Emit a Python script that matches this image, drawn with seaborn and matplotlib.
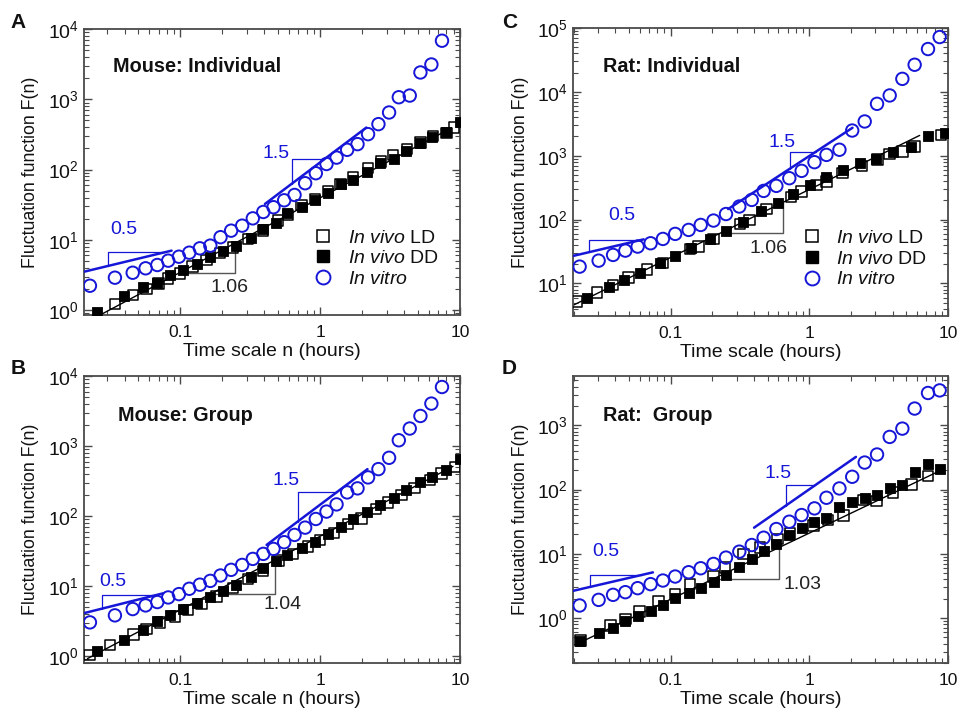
import numpy as np
import pandas as pd
import matplotlib
matplotlib.use("Agg")
import matplotlib.pyplot as plt
from matplotlib.lines import Line2D
from matplotlib.ticker import LogLocator, FuncFormatter, NullFormatter
import seaborn as sns

# ---------------- data ----------------
# Panel A: Mouse individual
x_a_vitro = [0.0226, 0.0341, 0.0457, 0.0565, 0.0685, 0.0820, 0.0978, 0.116, 0.138, 0.164, 0.194,
             0.231, 0.277, 0.330, 0.392, 0.464, 0.553, 0.656, 0.781, 0.931, 1.11, 1.31, 1.56, 1.85,
             2.20, 2.61, 3.11, 3.65, 4.37, 5.21, 6.24, 7.43]
y_a_vitro = [2.22, 2.89, 3.40, 3.93, 4.38, 5.05, 5.75, 6.56, 7.57, 8.26, 10.9, 13.5, 15.9, 20.2, 24.9,
             29.1, 36.5, 43.5, 63.9, 88.7, 120, 148, 191, 230, 319, 443, 649, 1070, 1130, 2410, 3130, 6820]
x_a_dd = [0.0255, 0.0398, 0.0544, 0.0685, 0.0849, 0.104, 0.131, 0.163, 0.201, 0.252, 0.318, 0.392, 0.482,
          0.581, 0.739, 0.916, 1.14, 1.42, 1.72, 2.18, 2.67, 3.38, 4.14, 5.21, 6.34, 7.98, 9.95]
y_a_dd = [0.946, 1.58, 2.10, 2.45, 3.12, 3.67, 4.48, 5.69, 7.01, 8.17, 10.5, 14.1, 17.6, 23.9, 29.1, 37.0,
          47.0, 61.8, 71.3, 93.6, 123, 140, 181, 237, 295, 340, 468]
x_a_ld = [0.0341, 0.0461, 0.0575, 0.0697, 0.0821, 0.0995, 0.122, 0.154, 0.192, 0.239, 0.306, 0.392, 0.501,
          0.591, 0.736, 0.917, 1.14, 1.40, 1.72, 2.20, 2.71, 3.32, 4.18, 5.21, 6.41, 7.98, 9.01]
y_a_ld = [1.22, 1.64, 2.01, 2.40, 2.80, 3.33, 4.15, 5.16, 6.43, 7.82, 10.2, 13.5, 18.8, 22.6, 31.4, 38.2,
          49.7, 62.5, 77.8, 105, 130, 160, 195, 243, 302, 330, 397]

# Panel B: Mouse group
x_b_vitro = x_a_vitro
y_b_vitro = [3.04, 3.83, 4.71, 5.31, 5.93, 6.90, 7.70, 9.18, 10.5, 11.9, 14.2, 17.1, 20.1, 24.5, 28.9, 34.0,
             42.4, 53.9, 68.5, 91.0, 116, 147, 218, 249, 357, 469, 680, 1210, 1780, 2690, 4040, 6970]
x_b_dd = x_a_dd
y_b_dd = [1.20, 1.72, 2.39, 3.14, 3.91, 4.71, 5.73, 6.98, 8.59, 10.5, 13.4, 18.1, 22.5, 28.0, 34.8, 43.3,
          55.7, 70.8, 90.0, 116, 144, 179, 235, 310, 357, 454, 644]
x_b_ld = [0.0224, 0.0315, 0.0462, 0.0575, 0.0717, 0.0916, 0.114, 0.142, 0.182, 0.239, 0.306, 0.392, 0.509,
          0.641, 0.821, 1.00, 1.25, 1.58, 1.97, 2.52, 3.06, 3.81, 4.74, 6.07, 7.36, 9.16]
y_b_ld = [1.05, 1.46, 2.03, 2.47, 3.04, 3.71, 4.61, 5.55, 7.13, 9.37, 12.7, 16.6, 23.2, 28.9, 36.7, 45.7,
          56.9, 76.4, 93.0, 126, 157, 200, 254, 327, 406, 506]

# Panel C: Rat individual
x_c_vitro = [0.0221, 0.0303, 0.0385, 0.0472, 0.0579, 0.0718, 0.0881, 0.108, 0.135, 0.165, 0.204, 0.251,
             0.313, 0.385, 0.469, 0.579, 0.718, 0.881, 1.09, 1.33, 1.65, 2.04, 2.51, 3.08, 3.80, 4.69,
             5.75, 7.18, 8.71]
y_c_vitro = [18.3, 22.7, 27.9, 32.6, 37.7, 42.5, 49.7, 59.6, 68.8, 82.3, 96.4, 122, 160, 203, 281, 337,
             444, 579, 792, 1030, 1240, 2480, 3440, 6500, 8790, 16000, 26600, 46900, 72300]
x_c_dd = [0.0250, 0.0358, 0.0464, 0.0605, 0.0843, 0.107, 0.141, 0.193, 0.251, 0.335, 0.449, 0.592, 0.759,
          1.01, 1.33, 1.76, 2.32, 3.05, 4.02, 5.45, 7.18, 9.46]
y_c_dd = [5.97, 8.89, 11.3, 14.7, 20.7, 26.9, 35.5, 49.1, 67.1, 92.9, 137, 180, 252, 349, 472, 600, 764,
          904, 1160, 1390, 2070, 2250]
x_c_ld = [0.0212, 0.0295, 0.0385, 0.0499, 0.0676, 0.0881, 0.138, 0.159, 0.204, 0.317, 0.370, 0.493, 0.738,
          0.881, 1.13, 1.33, 1.74, 2.40, 3.10, 3.80, 4.69, 5.75, 8.95]
y_c_ld = [5.17, 7.16, 9.44, 12.4, 16.6, 20.7, 34.2, 37.7, 49.1, 85.5, 98.7, 145, 224, 275, 345, 394, 532,
          690, 870, 1070, 1160, 1390, 2120]

# Panel D: Rat group
x_d_vitro = x_c_vitro
y_d_vitro = [1.57, 1.92, 2.30, 2.53, 2.92, 3.37, 3.84, 4.43, 5.17, 5.96, 6.96, 8.73, 10.8, 13.7, 17.8, 24.3,
             31.6, 40.1, 50.9, 74.5, 104, 158, 263, 351, 659, 887, 1820, 3180, 3490]
x_d_dd = x_c_vitro
y_d_dd = [0.434, 0.585, 0.698, 0.887, 1.06, 1.27, 1.61, 2.09, 2.44, 2.99, 3.70, 4.70, 6.33, 8.32, 11.1,
          14.1, 19.6, 24.9, 31.6, 36.5, 54.0, 64.6, 72.8, 82.0, 104, 117, 189, 254, 212]
x_d_ld = [0.0224, 0.0368, 0.0472, 0.0598, 0.0820, 0.108, 0.138, 0.204, 0.247, 0.335, 0.442, 0.591, 0.726,
          1.07, 1.37, 1.76, 2.44, 3.05, 4.02, 5.45, 7.18]
y_d_ld = [0.445, 0.769, 0.975, 1.27, 1.86, 2.36, 3.37, 4.43, 6.11, 9.84, 12.5, 17.0, 20.8, 27.4, 33.6,
          39.2, 68.5, 66.1, 90.2, 120, 164]

# Scaling-fit guide lines: (x_start, y_start, x_end, slope, bracket_x, bracket_level)
fit_a = {"lo": (0.0206, 3.52, 0.0867, 0.48, 0.0306, 6.64),
         "hi": (0.403, 32.4, 2.14, 1.50, 0.624, 140),
         "vivo": (0.0267, 0.85, 8.67, 1.06, 0.245, 3.33)}
fit_b = {"lo": (0.0206, 4.13, 0.0756, 0.50, 0.0277, 7.53),
         "hi": (0.414, 38.8, 2.18, 1.50, 0.689, 223),
         "vivo": (0.0217, 0.925, 8.91, 1.05, 0.474, 7.71)}
fit_c = {"lo": (0.0198, 26.9, 0.064, 0.51, 0.0257, 48),
         "hi": (0.26, 146, 2.05, 1.42, 0.726, 1160),
         "vivo": (0.0200, 4.58, 6.25, 1.065, 0.650, 62.5)}
fit_d = {"lo": (0.0198, 2.65, 0.0746, 0.50, 0.0264, 4.70),
         "hi": (0.400, 25.5, 2.17, 1.50, 0.679, 117),
         "vivo": (0.0206, 0.385, 8.24, 1.03, 0.608, 4.07)}

# Slope labels: (text, x, y, colour key)
labels_a = [("0.5", 0.0392, 13.8, "blue"), ("1.5", 0.482, 167, "blue"), ("1.06", 0.224, 2.10, "black")]
labels_b = [("0.5", 0.0332, 11.7, "blue"), ("1.5", 0.569, 327, "blue"), ("1.04", 0.538, 5.55, "black")]
labels_c = [("0.5", 0.0447, 114, "blue"), ("1.5", 0.632, 1610, "blue"), ("1.06", 0.509, 35.5, "black")]
labels_d = [("0.5", 0.0339, 10.8, "blue"), ("1.5", 0.591, 178, "blue"), ("1.03", 0.895, 3.29, "black")]

titles = {"A": "Mouse: Individual", "B": "Mouse: Group", "C": "Rat: Individual", "D": "Rat:  Group"}
xlabels = {"A": "Time scale n (hours)", "B": "Time scale n (hours)",
           "C": "Time scale (hours)", "D": "Time scale (hours)"}
ylabel = "Fluctuation function F(n)"
legend_labels = [r"$\mathit{In\ vivo}$ LD", r"$\mathit{In\ vivo}$ DD", r"$\mathit{In\ vitro}$"]

# ---------------- style ----------------
sns.set_theme(style="ticks")
plt.rcParams["font.family"] = ["Liberation Sans", "DejaVu Sans"]
plt.rcParams["mathtext.fontset"] = "custom"
plt.rcParams["mathtext.rm"] = "Liberation Sans"
plt.rcParams["mathtext.it"] = "Liberation Sans:italic"
plt.rcParams["mathtext.bf"] = "Liberation Sans:bold"

BLUE = "#1616d8"
SPINE = "#4a4a4a"
TXT = "#111111"

fig = plt.figure(figsize=(9.59, 7.10), dpi=100)
pos = {"A": [0.0876, 0.5563, 0.3921, 0.4028],
       "C": [0.5975, 0.5549, 0.3910, 0.4056],
       "B": [0.0876, 0.0662, 0.3921, 0.4042],
       "D": [0.5975, 0.0662, 0.3910, 0.4042]}
xlims = {"A": (0.0205, 10), "B": (0.0205, 10), "C": (0.0198, 10), "D": (0.0198, 10)}
ylims = {"A": (0.85, 1e4), "B": (0.80, 1e4), "C": (3.08, 1e5), "D": (0.2, 5840)}

panels = {
    "A": (x_a_vitro, y_a_vitro, x_a_dd, y_a_dd, x_a_ld, y_a_ld, fit_a, labels_a),
    "B": (x_b_vitro, y_b_vitro, x_b_dd, y_b_dd, x_b_ld, y_b_ld, fit_b, labels_b),
    "C": (x_c_vitro, y_c_vitro, x_c_dd, y_c_dd, x_c_ld, y_c_ld, fit_c, labels_c),
    "D": (x_d_vitro, y_d_vitro, x_d_dd, y_d_dd, x_d_ld, y_d_ld, fit_d, labels_d),
}

S_SQ = 56
S_CI = 80


def line_y(x, x0, y0, slope):
    return y0 * (np.asarray(x) / x0) ** slope


for key, (xv, yv, xdd, ydd, xld, yld, fits, labs) in panels.items():
    ax = fig.add_axes(pos[key])
    ax.set_xscale("log")
    ax.set_yscale("log")

    # black in vivo fit line (under markers)
    x0, y0, x1, sl, bx, lev = fits["vivo"]
    xs = np.array([x0, x1])
    ax.plot(xs, line_y(xs, x0, y0, sl), color="black", lw=1.0, zorder=1)
    x_start = x0 * (lev / y0) ** (1 / sl)
    ax.plot([x_start, bx, bx], [lev, lev, line_y(bx, x0, y0, sl)], color="#555555", lw=1.0, zorder=1)

    # in vivo LD (open squares)
    sns.scatterplot(x=xld, y=yld, ax=ax, marker="s", s=S_SQ, color="black", linewidth=1.1, zorder=3)
    ax.collections[-1].set_facecolor("none")
    ax.collections[-1].set_edgecolor("black")
    # in vivo DD (filled squares)
    sns.scatterplot(x=xdd, y=ydd, ax=ax, marker="s", s=S_SQ, color="black", linewidth=0.6, zorder=4)
    ax.collections[-1].set_edgecolor("black")
    # in vitro (open circles)
    sns.scatterplot(x=xv, y=yv, ax=ax, marker="o", s=S_CI, color=BLUE, linewidth=1.4, zorder=5)
    ax.collections[-1].set_facecolor("none")
    ax.collections[-1].set_edgecolor(BLUE)

    # blue fit lines with brackets above
    for k in ("lo", "hi"):
        x0, y0, x1, sl, bx, lev = fits[k]
        xs = np.array([x0, x1])
        ax.plot(xs, line_y(xs, x0, y0, sl), color=BLUE, lw=1.8, zorder=6)
        x_end = x0 * (lev / y0) ** (1 / sl)
        ax.plot([bx, bx, x_end], [line_y(bx, x0, y0, sl), lev, lev], color=BLUE, lw=0.9, zorder=6)

    for txt, tx, ty, col in labs:
        ax.text(tx, ty, txt, color=BLUE if col == "blue" else "#222222", fontsize=14,
                ha="center", va="center", zorder=7)

    ax.set_xlim(*xlims[key])
    ax.set_ylim(*ylims[key])

    ax.xaxis.set_major_locator(LogLocator(base=10, numticks=10))
    ax.xaxis.set_minor_locator(LogLocator(base=10, subs=np.arange(2, 10), numticks=20))
    ax.xaxis.set_major_formatter(FuncFormatter(lambda v, p: f"{v:g}"))
    ax.xaxis.set_minor_formatter(NullFormatter())
    ax.yaxis.set_minor_locator(LogLocator(base=10, subs=np.arange(2, 10), numticks=20))
    ax.yaxis.set_minor_formatter(NullFormatter())

    ax.tick_params(which="both", direction="in", top=True, right=True, colors=SPINE,
                   labelcolor=TXT)
    ax.tick_params(which="major", length=6, width=1.0)
    ax.tick_params(which="minor", length=3.5, width=0.8)
    ax.tick_params(axis="x", which="major", labelsize=12.5, pad=7)
    ax.tick_params(axis="y", which="major", labelsize=14, pad=3.5)
    for sp in ax.spines.values():
        sp.set_color(SPINE)
        sp.set_linewidth(1.3)

    ax.set_xlabel(xlabels[key], fontsize=14, color=TXT)
    ax.set_ylabel(ylabel, fontsize=12.8, color=TXT)
    ax.xaxis.label.set_va("center")
    ax.xaxis.set_label_coords(0.5, -0.127)
    ax.yaxis.label.set_va("center")
    ax.yaxis.set_label_coords(-0.141, 0.5)

    tx = {"A": (0.077, 0.868), "B": (0.091, 0.864), "C": (0.079, 0.866), "D": (0.079, 0.864)}[key]
    ax.text(tx[0], tx[1], titles[key], transform=ax.transAxes, fontsize=14.3, fontweight="bold",
            ha="left", va="center", color=TXT)

    if key in ("A", "C"):
        handles = [
            Line2D([], [], ls="none", marker="s", ms=8.5, mfc="none", mec="black", mew=1.1),
            Line2D([], [], ls="none", marker="s", ms=8.5, mfc="black", mec="black"),
            Line2D([], [], ls="none", marker="o", ms=10, mfc="none", mec=BLUE, mew=1.4),
        ]
        leg = ax.legend(handles, legend_labels, loc="center left", bbox_to_anchor=(0.585, 0.198),
                        frameon=False, fontsize=14, handlelength=1.0, handletextpad=0.75,
                        labelspacing=0.15, borderpad=0.0)
        for t in leg.get_texts():
            t.set_color(TXT)

letters = {"A": (0.019, 0.968), "C": (0.531, 0.969), "B": (0.019, 0.481), "D": (0.531, 0.481)}
for k, (lx, ly) in letters.items():
    fig.text(lx, ly, k, fontsize=15, fontweight="bold", ha="center", va="center", color=TXT)

fig.savefig("out.png", dpi=100)
